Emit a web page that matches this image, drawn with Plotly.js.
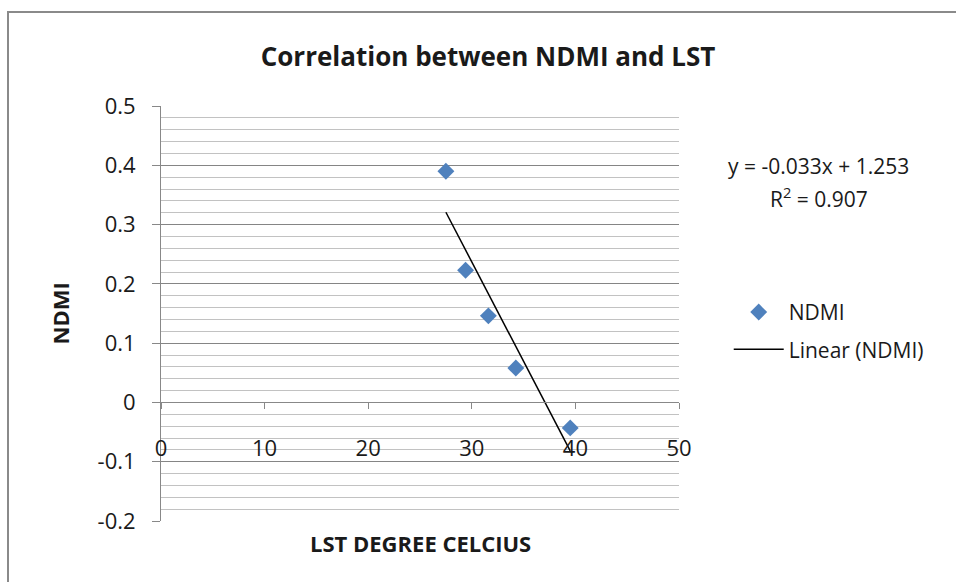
<!DOCTYPE html>
<html><head><meta charset="utf-8">
<script src="https://cdn.plot.ly/plotly-3.0.1.min.js"></script>
<style>html,body{margin:0;padding:0;background:#fff}#chart{width:956px;height:582px}</style>
</head><body><div id="chart"></div>
<script>
// Data
const lst = [27.5, 29.4, 31.6, 34.25, 39.5];
const ndmi = [0.39, 0.223, 0.146, 0.058, -0.043];
const xTicks = [0, 10, 20, 30, 40, 50];
const yTicks = [0.5, 0.4, 0.3, 0.2, 0.1, 0, -0.1, -0.2];
const yTickLabels = ['0.5', '0.4', '0.3', '0.2', '0.1', '0', '-0.1', '-0.2'];
const equationText = 'y = -0.033x + 1.253';
const r2Text = 'R<sup>2</sup> = 0.907';
const titleText = 'Correlation between NDMI and LST';
const xTitle = 'LST DEGREE CELCIUS';
const yTitle = 'NDMI';

// least squares fit of the data (trend line)
const n = lst.length;
const mx = lst.reduce((a, b) => a + b, 0) / n;
const my = ndmi.reduce((a, b) => a + b, 0) / n;
let sxy = 0, sxx = 0;
for (let i = 0; i < n; i++) { sxy += (lst[i] - mx) * (ndmi[i] - my); sxx += (lst[i] - mx) ** 2; }
const slope = sxy / sxx, intercept = my - slope * mx;
const trendX = [Math.min(...lst), Math.max(...lst)];
const trendY = trendX.map(v => slope * v + intercept);

const FONT = 'Open Sans, Noto Sans, sans-serif';
const TXT = '#1a1a1a';
const yMin = -0.2, yMax = 0.5;

const traces = [
  { x: lst, y: ndmi, type: 'scatter', mode: 'markers', name: 'NDMI', legendgroup: 'a',
    marker: { symbol: 'diamond', size: 13, color: '#4F81BD' } },
  { x: trendX, y: trendY, type: 'scatter', mode: 'lines', name: 'Linear (NDMI)', legendgroup: 'b',
    line: { color: '#000', width: 1.5 } }
];

const layout = {
  width: 956, height: 582,
  paper_bgcolor: '#fff', plot_bgcolor: '#fff',
  margin: { l: 161, r: 277, t: 106, b: 61 },
  font: { family: FONT, color: TXT, size: 22 },
  title: { text: '<b>' + titleText + '</b>', x: 0.5105, xanchor: 'center', y: 0.902, yanchor: 'middle',
           font: { family: FONT, size: 26, color: TXT } },
  xaxis: {
    range: [0, 50], anchor: 'free', position: (0 - yMin) / (yMax - yMin),
    tickmode: 'array', tickvals: xTicks, ticktext: xTicks.map(String),
    ticks: 'outside', ticklen: 6, tickcolor: '#888', tickwidth: 1,
    showline: true, linecolor: '#888', linewidth: 1,
    showgrid: false, zeroline: false, ticklabelstandoff: 20,
    tickfont: { family: FONT, size: 22, color: TXT }, fixedrange: true
  },
  yaxis: {
    range: [yMin, yMax], tickmode: 'array', tickvals: yTicks, ticktext: yTickLabels,
    ticks: 'outside', ticklen: 8, tickcolor: '#888', tickwidth: 1,
    showline: true, linecolor: '#888', linewidth: 1,
    showgrid: true, gridcolor: '#858585', gridwidth: 1, zeroline: false,
    minor: { tickmode: 'linear', tick0: 0, dtick: 0.02, showgrid: true, gridcolor: '#c2c2c2', gridwidth: 1, ticks: '' },
    ticklabelstandoff: 12,
    tickfont: { family: FONT, size: 22, color: TXT }, fixedrange: true
  },
  showlegend: true,
  legend: {
    x: 1.096, xanchor: 'left', y: 0.552, yanchor: 'top',
    traceorder: 'grouped', tracegroupgap: 7, itemwidth: 50,
    font: { family: FONT, size: 21, color: TXT }, bgcolor: 'rgba(0,0,0,0)'
  },
  annotations: [
    { text: equationText, xref: 'paper', yref: 'paper', x: 1.270, y: (521 - 166) / 415,
      xanchor: 'center', yanchor: 'middle', showarrow: false, font: { family: FONT, size: 21, color: TXT } },
    { text: r2Text, xref: 'paper', yref: 'paper', x: 1.270, y: (521 - 197) / 415,
      xanchor: 'center', yanchor: 'middle', showarrow: false, font: { family: FONT, size: 21, color: TXT } },
    { text: '<b>' + xTitle + '</b>', xref: 'paper', yref: 'paper', x: 0.5, y: (521 - 543) / 415,
      xanchor: 'center', yanchor: 'middle', showarrow: false, font: { family: FONT, size: 22, color: TXT } },
    { text: '<b>' + yTitle + '</b>', xref: 'paper', yref: 'paper', x: (59 - 161) / 518, y: 0.5,
      xanchor: 'center', yanchor: 'middle', textangle: -90, showarrow: false, font: { family: FONT, size: 22, color: TXT } }
  ],
  shapes: [
    { type: 'rect', xref: 'paper', yref: 'paper',
      x0: (8 - 161) / 518, x1: (1000 - 161) / 518, y0: (521 - 650) / 415, y1: (521 - 12) / 415,
      line: { color: '#8a8a8a', width: 2 }, fillcolor: 'rgba(0,0,0,0)', layer: 'below' }
  ]
};

Plotly.newPlot('chart', traces, layout, { displayModeBar: false, staticPlot: true });
</script>
</body></html>
